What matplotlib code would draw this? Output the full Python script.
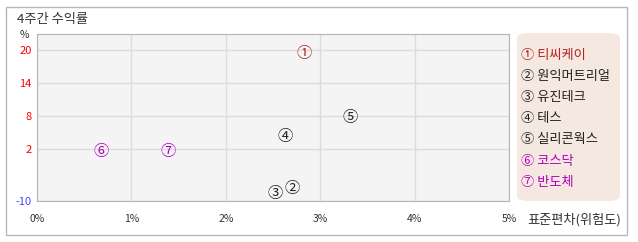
import numpy as np
import matplotlib.pyplot as plt
from matplotlib.patches import FancyBboxPatch, Rectangle

plt.rcParams['font.family'] = ['Noto Sans CJK KR', 'DejaVu Sans']

# data
names = ['티씨케이', '원익머트리얼', '유진테크', '테스', '실리콘웍스', '코스닥', '반도체']
marks = ['①', '②', '③', '④', '⑤', '⑥', '⑦']
risk = [2.83, 2.70, 2.52, 2.63, 3.32, 0.68, 1.39]      # 표준편차 (%)
ret = [19.3, -7.2, -8.2, 4.2, 7.8, 1.5, 1.5]           # 4주간 수익률 (%)
colors = ['#b22222', '#222222', '#222222', '#222222', '#222222', '#b000c0', '#b000c0']

x_ticks = [0, 1, 2, 3, 4, 5]
x_labels = ['0%', '1%', '2%', '3%', '4%', '5%']
y_ticks = [-10, 2, 8, 14, 20]


# the y axis of the original is not linear: -10..2 is squeezed
def fwd(v):
    v = np.asarray(v, dtype=float)
    return np.where(v < 2, (v + 10) * 52 / 12, 52 + (v - 2) * 99 / 18)


def inv(p):
    p = np.asarray(p, dtype=float)
    return np.where(p < 52, p * 12 / 52 - 10, 2 + (p - 52) * 18 / 99)


fig = plt.figure(figsize=(6.38, 2.42), dpi=100)
W, H = 638, 242

# outer frame
fig.patches.append(Rectangle((6 / W, 1 - 235 / H), 621 / W, 228 / H, transform=fig.transFigure,
                             facecolor='white', edgecolor='#b8b8b8', lw=1, zorder=-10))
fig.text(17 / W, 1 - 20 / H, '4주간 수익률', fontsize=9.5, color='#333333', va='center')

ax = fig.add_axes([37 / W, 1 - 201 / H, 472 / W, 167 / H])
ax.set_yscale('function', functions=(fwd, inv))
ax.set_xlim(0, 5)
ax.set_ylim(-10, 22.9)
ax.set_facecolor('#f4f4f4')
for s in ax.spines.values():
    s.set_color('#b4b4b4')
ax.grid(True, color='#dcdcdc', lw=1)
ax.set_axisbelow(True)

ax.set_xticks(x_ticks)
ax.set_xticklabels(x_labels, fontsize=7.5, color='#333333')
ax.set_yticks(y_ticks)
ax.set_yticklabels([str(v) for v in y_ticks], fontsize=8)
for lbl, v in zip(ax.get_yticklabels(), y_ticks):
    lbl.set_color('#ff0000' if v > 0 else '#4444ff')
ax.minorticks_off()
ax.tick_params(length=0, pad=4)
ax.tick_params(axis='x', pad=9)

ax.text(-0.026, 0.994, '%', transform=ax.transAxes, fontsize=7.5, color='#333333',
        ha='center', va='center')
ax.text(5.19, -0.11, '표준편차(위험도)', transform=ax.get_xaxis_transform(), fontsize=9.5,
        color='#333333', ha='left', va='center', clip_on=False)

for m, x, y, c in zip(marks, risk, ret, colors):
    ax.text(x, y, m, fontsize=11, color=c, ha='center', va='center')

# legend panel
fig.patches.append(FancyBboxPatch((517 / W, 1 - 201 / H), 103 / W, 168 / H,
                                  boxstyle='round,pad=0,rounding_size=0.02',
                                  transform=fig.transFigure, facecolor='#f5e8e0', edgecolor='none'))
for i, (m, n, c) in enumerate(zip(marks, names, colors)):
    fig.text(521 / W, 1 - (55 + i * 21.2) / H, m + ' ' + n, fontsize=9.5, color=c, va='center')

fig.savefig('out.png', dpi=100)
